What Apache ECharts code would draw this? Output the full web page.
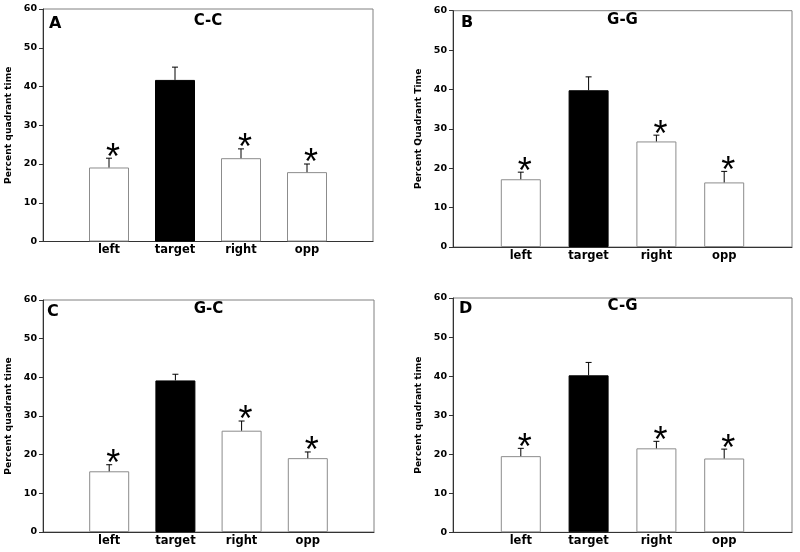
<!DOCTYPE html>
<html>
<head>
<meta charset="utf-8">
<script src="https://cdn.jsdelivr.net/npm/echarts@6/dist/echarts.min.js"></script>
<style>html,body{margin:0;padding:0;background:#fff}#c{width:800px;height:552px}</style>
</head>
<body>
<div id="c"></div>
<script>
var categories = ['left', 'target', 'right', 'opp'];
var panelLetters = ['A', 'B', 'C', 'D'];
var panelTitles = ['C-C', 'G-G', 'G-C', 'C-G'];
var yNames = ['Percent quadrant time', 'Percent Quadrant Time', 'Percent quadrant time', 'Percent quadrant time'];
var yTicks = [0, 10, 20, 30, 40, 50, 60];

var meansA = [19.1, 41.7, 21.5, 17.9];
var errA   = [2.4, 3.3, 2.4, 2.1];
var meansB = [17.2, 39.8, 26.8, 16.4];
var errB   = [1.8, 3.4, 1.6, 2.8];
var meansC = [15.7, 39.2, 26.2, 19.1];
var errC   = [1.7, 1.6, 2.5, 1.6];
var meansD = [19.5, 40.2, 21.5, 18.9];
var errD   = [2.0, 3.3, 1.8, 2.4];
var starred = [true, false, true, true];

var means = [meansA, meansB, meansC, meansD];
var errs = [errA, errB, errC, errD];

var grids = [
  {left: 43, top: 9, width: 330, height: 232.5},
  {left: 453, top: 10.7, width: 339, height: 236.3},
  {left: 43, top: 300, width: 331, height: 232},
  {left: 453, top: 298, width: 339, height: 234.3}
];
var letterPos = [[49, 17], [461, 16], [47, 305], [459, 302]];
var FONT = 'DejaVu Sans';

var option = {
  animation: false,
  backgroundColor: '#fff',
  grid: grids.map(function (g) {
    return {left: g.left, top: g.top, width: g.width, height: g.height, show: true,
      borderColor: '#808080', borderWidth: 1, backgroundColor: 'transparent', containLabel: false};
  }),
  title: [],
  xAxis: [],
  yAxis: [],
  series: []
};

for (var i = 0; i < 4; i++) {
  var g = grids[i];
  option.title.push({
    text: panelLetters[i], left: letterPos[i][0], top: letterPos[i][1] - 1, padding: 0,
    textStyle: {fontFamily: FONT, fontWeight: 'bold', fontSize: 16, color: '#000'}
  });
  option.title.push({
    text: panelTitles[i], left: g.left + g.width / 2, top: letterPos[i][1] - 3, textAlign: 'center', padding: 0,
    textStyle: {fontFamily: FONT, fontWeight: 'bold', fontSize: 15, color: '#000'}
  });
  option.xAxis.push({
    type: 'value', gridIndex: i, min: 0, max: 5, interval: 1,
    axisLine: {show: true, lineStyle: {color: '#333', width: 1}},
    axisTick: {show: false},
    splitLine: {show: false},
    axisLabel: {
      margin: 3, color: '#000', fontFamily: FONT, fontWeight: 'bold', fontSize: 11.5,
      formatter: function (v) { return categories[v - 1] || ''; }
    }
  });
  option.yAxis.push({
    type: 'value', gridIndex: i, min: yTicks[0], max: yTicks[yTicks.length - 1], interval: 10,
    name: yNames[i], nameLocation: 'middle', nameGap: 30,
    nameTextStyle: {fontFamily: FONT, fontWeight: 'bold', fontSize: 9.2, color: '#000'},
    axisLine: {show: true, lineStyle: {color: '#333', width: 1}},
    axisTick: {show: true, inside: false, length: 4, lineStyle: {color: '#333'}},
    splitLine: {show: false},
    axisLabel: {margin: 6, color: '#000', fontFamily: FONT, fontWeight: 'bold', fontSize: 9.5}
  });
  var barData = means[i].map(function (m, k) {
    var isTarget = categories[k] === 'target';
    return {value: [k + 1, m], itemStyle: {
      color: isTarget ? '#000' : '#fff',
      borderColor: isTarget ? '#000' : '#8c8c8c', borderWidth: 1}};
  });
  option.series.push({
    type: 'bar', xAxisIndex: i, yAxisIndex: i, barWidth: 40, data: barData, z: 2
  });
  var errData = means[i].map(function (m, k) {
    return [k + 1, m, m + errs[i][k], starred[k] ? 1 : 0];
  });
  option.series.push({
    type: 'custom', xAxisIndex: i, yAxisIndex: i, z: 3, data: errData,
    renderItem: function (params, api) {
      var x = api.value(0);
      var lo = api.coord([x, api.value(1)]);
      var hi = api.coord([x, api.value(2)]);
      var children = [
        {type: 'line', shape: {x1: lo[0], y1: lo[1], x2: hi[0], y2: hi[1]}, style: {stroke: '#000', lineWidth: 1}},
        {type: 'line', shape: {x1: hi[0] - 3, y1: hi[1], x2: hi[0] + 3, y2: hi[1]}, style: {stroke: '#000', lineWidth: 1}}
      ];
      if (api.value(3)) {
        children.push({type: 'text', style: {
          text: '*', x: hi[0] + 4, y: hi[1] + 0.5, fill: '#000',
          font: '36px "Liberation Sans"', align: 'center', verticalAlign: 'middle'}});
      }
      return {type: 'group', children: children};
    }
  });
}

var chart = echarts.init(document.getElementById('c'), null, {renderer: 'canvas'});
chart.setOption(option);
</script>
</body>
</html>
